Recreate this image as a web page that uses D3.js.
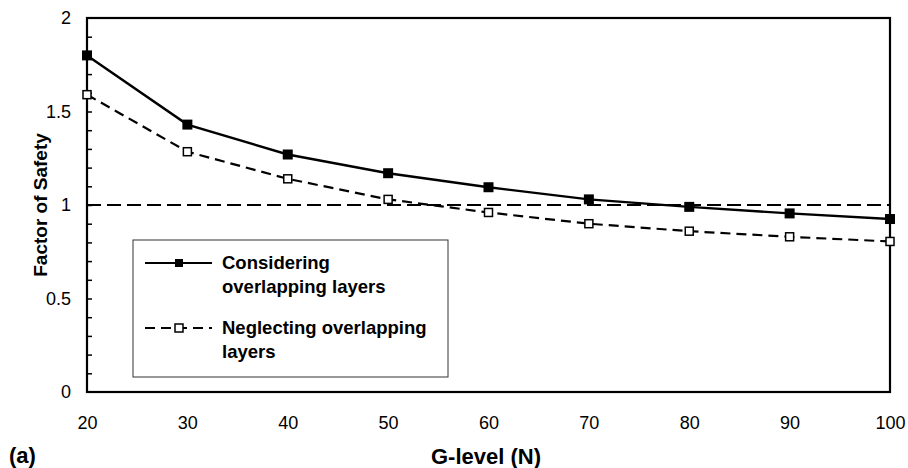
<!DOCTYPE html>
<html>
<head>
<meta charset="utf-8">
<script src="https://cdn.jsdelivr.net/npm/d3@7"></script>
<style>
  html, body { margin: 0; padding: 0; background: #fff; }
  svg { display: block; }
  text { font-family: "Liberation Sans", Arial, Helvetica, sans-serif; fill: #000; }
</style>
</head>
<body>
<svg id="chart" width="908" height="468"></svg>
<script>
// G-level values (N)
const gLevels = [20, 30, 40, 50, 60, 70, 80, 90, 100];
// Factor of safety, considering overlapping layers
const considering = [1.80, 1.43, 1.27, 1.17, 1.095, 1.03, 0.99, 0.955, 0.925];
// Factor of safety, neglecting overlapping layers
const neglecting = [1.59, 1.285, 1.14, 1.03, 0.96, 0.90, 0.86, 0.83, 0.805];
// Axis tick labels
const xTicks = [20, 30, 40, 50, 60, 70, 80, 90, 100];
const yTicks = [0, 0.5, 1, 1.5, 2];
const yMinorTicks = d3.range(1, 20).map(i => i / 10);
const threshold = 1;
const seriesNames = [["Considering", "overlapping layers"], ["Neglecting overlapping", "layers"]];

const svg = d3.select("#chart");
const plot = { left: 87, right: 890, top: 18, bottom: 392 };

const x = d3.scaleLinear().domain([20, 100]).range([plot.left, plot.right]);
const y = d3.scaleLinear().domain([0, 2]).range([plot.bottom, plot.top]);

// Inward minor ticks on the left axis
svg.append("g")
  .attr("transform", `translate(${plot.left},0)`)
  .call(d3.axisRight(y).tickValues(yMinorTicks).tickSize(5).tickFormat(""))
  .call(g => g.select(".domain").remove())
  .call(g => g.selectAll("line").attr("stroke", "#000").attr("stroke-width", 1.5));

// Y tick labels
svg.append("g")
  .attr("transform", `translate(${plot.left},0)`)
  .call(d3.axisLeft(y).tickValues(yTicks).tickSize(0).tickPadding(16)
    .tickFormat(d => String(d)))
  .call(g => g.select(".domain").remove())
  .call(g => g.selectAll("text").style("font-size", "18px")
    .style("font-family", '"Liberation Sans", Arial, sans-serif'));

// X tick labels
svg.append("g")
  .attr("transform", `translate(0,${plot.bottom})`)
  .call(d3.axisBottom(x).tickValues(xTicks).tickSize(0).tickPadding(24)
    .tickFormat(d => String(d)))
  .call(g => g.select(".domain").remove())
  .call(g => g.selectAll("text").style("font-size", "18px")
    .style("font-family", '"Liberation Sans", Arial, sans-serif'));

// Plot frame
svg.append("rect")
  .attr("x", plot.left).attr("y", plot.top)
  .attr("width", plot.right - plot.left).attr("height", plot.bottom - plot.top)
  .attr("fill", "none").attr("stroke", "#000").attr("stroke-width", 2.2);

// FS = 1 reference line
svg.append("line")
  .attr("x1", x(20)).attr("x2", x(100))
  .attr("y1", y(threshold)).attr("y2", y(threshold))
  .attr("stroke", "#000").attr("stroke-width", 2)
  .attr("stroke-dasharray", "14,6");

const line = d3.line().x((d, i) => x(gLevels[i])).y(d => y(d));

// Neglecting overlapping layers: dashed line, open squares
svg.append("path").datum(neglecting)
  .attr("d", line).attr("fill", "none")
  .attr("stroke", "#000").attr("stroke-width", 2.2)
  .attr("stroke-dasharray", "10,6");
svg.append("g").selectAll("rect").data(neglecting).join("rect")
  .attr("x", (d, i) => x(gLevels[i]) - 4).attr("y", d => y(d) - 4)
  .attr("width", 8).attr("height", 8)
  .attr("fill", "#fff").attr("stroke", "#000").attr("stroke-width", 1.5);

// Considering overlapping layers: solid line, filled squares
svg.append("path").datum(considering)
  .attr("d", line).attr("fill", "none")
  .attr("stroke", "#000").attr("stroke-width", 2.4);
svg.append("g").selectAll("rect").data(considering).join("rect")
  .attr("x", (d, i) => x(gLevels[i]) - 5).attr("y", d => y(d) - 5)
  .attr("width", 10).attr("height", 10)
  .attr("fill", "#000");

// Legend
const legend = svg.append("g");
legend.append("rect")
  .attr("x", 133).attr("y", 240).attr("width", 315).attr("height", 137)
  .attr("fill", "#fff").attr("stroke", "#333").attr("stroke-width", 1);

const legendRows = [
  { y: 263, dash: null, filled: true },
  { y: 328, dash: "10,6", filled: false }
];
legendRows.forEach((r, i) => {
  legend.append("line")
    .attr("x1", 145).attr("x2", 212).attr("y1", r.y).attr("y2", r.y)
    .attr("stroke", "#000").attr("stroke-width", 2)
    .attr("stroke-dasharray", r.dash);
  if (r.filled) {
    legend.append("rect").attr("x", 175).attr("y", r.y - 4)
      .attr("width", 8).attr("height", 8).attr("fill", "#000");
  } else {
    legend.append("rect").attr("x", 175).attr("y", r.y - 4)
      .attr("width", 8).attr("height", 8).attr("fill", "#fff")
      .attr("stroke", "#000").attr("stroke-width", 1.5);
  }
  seriesNames[i].forEach((t, j) => {
    legend.append("text")
      .attr("x", 222).attr("y", r.y + 6 + j * 24)
      .style("font-size", "18.5px").style("font-weight", "bold")
      .text(t);
  });
});

// Axis titles
svg.append("text")
  .attr("transform", `translate(47,${(plot.top + plot.bottom) / 2}) rotate(-90)`)
  .attr("text-anchor", "middle")
  .style("font-size", "19px").style("font-weight", "bold")
  .text("Factor of Safety");

svg.append("text")
  .attr("x", 486).attr("y", 464)
  .attr("text-anchor", "middle")
  .style("font-size", "22px").style("font-weight", "bold")
  .text("G-level (N)");

svg.append("text")
  .attr("x", 9).attr("y", 463)
  .style("font-size", "22px").style("font-weight", "bold")
  .text("(a)");
</script>
</body>
</html>
